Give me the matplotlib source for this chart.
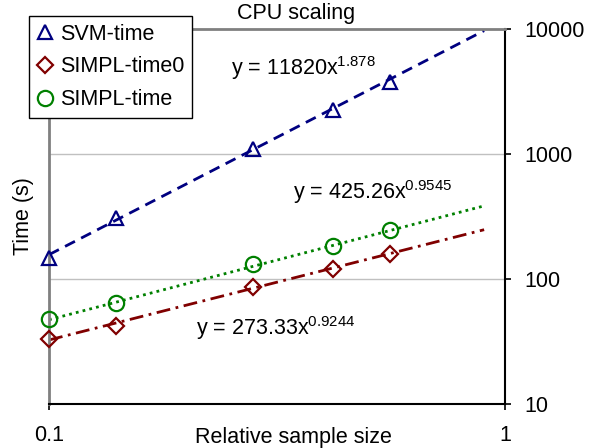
import matplotlib
matplotlib.use("Agg")
import matplotlib.pyplot as plt
import numpy as np
from matplotlib.ticker import FixedLocator, NullLocator

plt.rcParams["font.family"] = ["Liberation Sans", "DejaVu Sans"]
plt.rcParams["mathtext.fontset"] = "custom"
plt.rcParams["mathtext.rm"] = "Liberation Sans"
plt.rcParams["mathtext.default"] = "regular"

# relative sample size
sizes = [0.1, 0.14, 0.28, 0.42, 0.56]

# run times (s)
svm_time = [147, 308, 1096, 2249, 3767]
simpl_time0 = [33, 42, 86, 120, 158]
simpl_time = [48, 64, 132, 184, 247]

# power-law trendlines y = a * x^b
svm_fit = (11820, 1.878)
simpl0_fit = (273.33, 0.9244)
simpl_fit = (425.26, 0.9545)
fit_range = (0.1, 0.9)

x_ticks = [0.1, 1]
x_tick_labels = ["0.1", "1"]
y_ticks = [10, 100, 1000, 10000]
y_tick_labels = ["10", "100", "1000", "10000"]

fig = plt.figure(figsize=(6.01, 4.48), dpi=100)
ax = fig.add_axes([49 / 601, 44 / 448, 456 / 601, 375 / 448])
ax.set_xscale("log")
ax.set_yscale("log")
ax.set_xlim(0.1, 1)
ax.set_ylim(10, 10000)

xf = np.linspace(np.log10(fit_range[0]), np.log10(fit_range[1]), 50)
xf = 10 ** xf

navy, dred, green = "#000080", "#800000", "#008000"

ax.plot(xf, svm_fit[0] * xf ** svm_fit[1], color=navy, lw=2,
        linestyle=(0, (4, 2.5)), clip_on=False, zorder=2)
ax.plot(xf, simpl0_fit[0] * xf ** simpl0_fit[1], color=dred, lw=2,
        linestyle=(0, (5, 2, 1, 2)), zorder=2)
ax.plot(xf, simpl_fit[0] * xf ** simpl_fit[1], color=green, lw=2,
        linestyle=(0, (1, 1.5)), zorder=2)

ax.plot(sizes, svm_time, linestyle="none", marker="^", ms=10, mfc="none",
        mec=navy, mew=1.6, label="SVM-time", clip_on=False, zorder=3)
ax.plot(sizes, simpl_time0, linestyle="none", marker="D", ms=8.5, mfc="none",
        mec=dred, mew=1.6, label="SIMPL-time0", clip_on=False, zorder=3)
ax.plot(sizes, simpl_time, linestyle="none", marker="o", ms=11, mfc="none",
        mec=green, mew=1.6, label="SIMPL-time", clip_on=False, zorder=3)

# grid
for y in [100, 1000]:
    ax.axhline(y, color="#c0c0c0", lw=1, zorder=1)

# spines
ax.spines["left"].set_color("#808080")
ax.spines["left"].set_linewidth(2)
ax.spines["top"].set_color("#808080")
ax.spines["top"].set_linewidth(2)
ax.spines["right"].set_color("black")
ax.spines["right"].set_linewidth(1.5)
ax.spines["bottom"].set_color("black")
ax.spines["bottom"].set_linewidth(1.5)

ax.yaxis.tick_right()
ax.yaxis.set_major_locator(FixedLocator(y_ticks))
ax.yaxis.set_minor_locator(NullLocator())
ax.set_yticklabels(y_tick_labels)
ax.xaxis.set_major_locator(FixedLocator(x_ticks))
ax.xaxis.set_minor_locator(NullLocator())
ax.set_xticklabels(x_tick_labels)
ax.tick_params(axis="y", direction="out", length=4, width=1.2, pad=10,
               labelsize=15.5, right=True, left=False)
ax.tick_params(axis="x", direction="out", length=4, width=1.2, pad=11,
               labelsize=15.5)

ax.set_xlabel("Relative sample size", fontsize=15.5)
ax.xaxis.set_label_coords(0.535, -0.088)
ax.xaxis.label.set_va("center")
ax.set_ylabel("Time (s)", fontsize=15.5)
ax.yaxis.set_label_position("left")
ax.yaxis.set_label_coords(-0.055, 0.5)
ax.yaxis.label.set_va("center")

fig.text(296 / 601, 1 - 14 / 448, "CPU scaling", fontsize=15.5,
         ha="center", va="center")

ax.text(0.2506, 4875, r"y = 11820x$^{1.878}$", fontsize=15.5, va="center")
ax.text(0.343, 497, r"y = 425.26x$^{0.9545}$", fontsize=15.5, va="center")
ax.text(0.21, 40.6, r"y = 273.33x$^{0.9244}$", fontsize=15.5, va="center")

leg = ax.legend(loc="upper left", bbox_to_anchor=(29 / 601, 1 - 16 / 448),
                bbox_transform=fig.transFigure, borderaxespad=0,
                fancybox=False, edgecolor="black", framealpha=1,
                fontsize=15.5, handlelength=0.8, handletextpad=0.3,
                labelspacing=0.55, borderpad=0.35)
leg.get_frame().set_linewidth(1)
leg.set_zorder(5)

fig.savefig("out.png", dpi=100)
